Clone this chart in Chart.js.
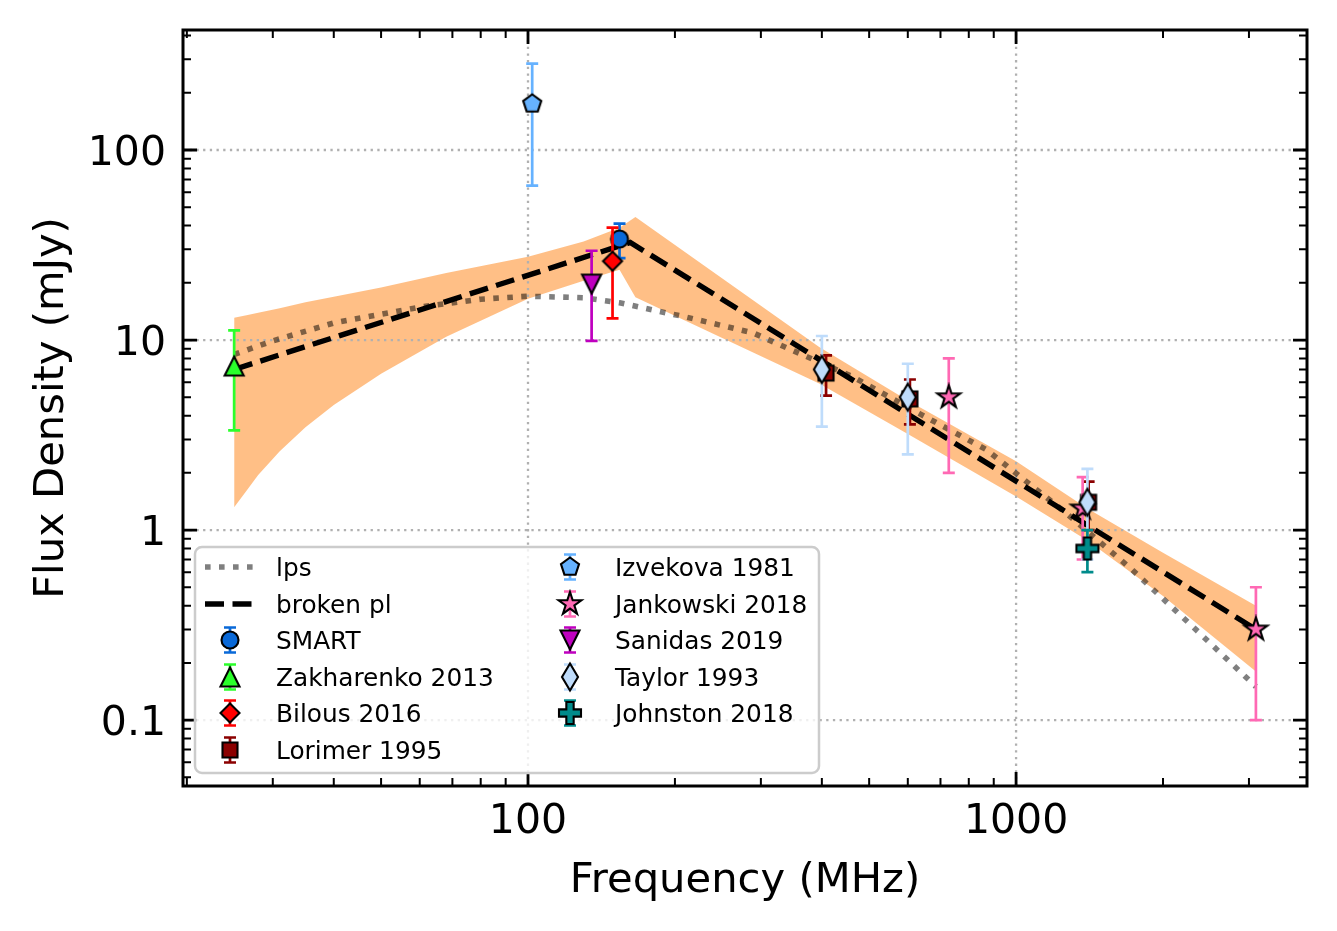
<!DOCTYPE html>
<html>
<head>
<meta charset="utf-8">
<script src="https://cdn.jsdelivr.net/npm/chart.js@4.4.1/dist/chart.umd.min.js"></script>
<style>
  html, body { margin: 0; padding: 0; background: #fff; }
  canvas { display: block; }
</style>
</head>
<body>
<canvas id="spec" width="1337" height="931"></canvas>
<script>
// ---- values (MHz, mJy) ----
const smartFreq = [154],              smartFlux = [34],              smartErr = [7];
const zakFreq   = [25],               zakFlux   = [7.3],             zakErr   = [3.95];
const bilFreq   = [149],              bilFlux   = [26],              bilErr   = [13];
const lorFreq   = [408, 606, 1408],   lorFlux   = [6.7, 4.9, 1.4],   lorErr   = [1.6, 1.3, 0.4];
const izvFreq   = [102],              izvFlux   = [175],             izvErr   = [110];
const jankFreq  = [728, 1369, 3100],  jankFlux  = [5.0, 1.3, 0.3],   jankErr  = [3.0, 0.6, 0.2];
const sanFreq   = [135],              sanFlux   = [19.7],            sanErr   = [9.8];
const taylFreq  = [400, 600, 1400],   taylFlux  = [7.0, 5.0, 1.4],   taylErr  = [3.5, 2.5, 0.7];
const johnFreq  = [1400],             johnFlux  = [0.8],             johnErr  = [0.2];

// fitted models
const lpsFreq = [25, 30, 40, 60, 80, 100, 130, 154, 211, 289, 463, 634, 869, 1265, 1727, 2366, 3100];
const lpsFlux = [8.4, 9.9, 12.3, 14.9, 16.4, 17.0, 16.7, 15.7, 13.2, 10.9, 6.4, 4.1, 2.65, 1.23, 0.62, 0.29, 0.15];
const bplFreq = [25, 162, 3100];
const bplFlux = [7.0, 32.6, 0.3];

// uncertainty band of the broken power law
const bandFreq = [25, 26.5, 28, 31, 35, 40, 50, 68, 100, 130, 154, 166, 395, 600, 1000, 1400, 2000, 3100];
const bandHigh = [13.1, 13.5, 13.9, 14.7, 15.8, 16.9, 18.9, 22.5, 27.4, 33, 39, 44.4, 9.2, 4.8, 2.3, 1.3, 0.76, 0.40];
const bandLow  = [1.32, 1.61, 1.95, 2.6, 3.48, 4.55, 6.65, 10.4, 16.5, 20.5, 23.4, 16.8, 5.9, 3.2, 1.5, 0.88, 0.45, 0.18];

// axes
const xRange = [19.64, 3945];
const yRange = [0.045, 428];
const xMajorTicks = [100, 1000];
const xTickLabels = ['100', '1000'];
const xMinorTicks = [20, 30, 40, 50, 60, 70, 80, 90, 200, 300, 400, 500, 600, 700, 800, 900, 2000, 3000];
const yMajorTicks = [0.1, 1, 10, 100];
const yTickLabels = ['0.1', '1', '10', '100'];
const yMinorTicks = [0.05, 0.06, 0.07, 0.08, 0.09, 0.2, 0.3, 0.4, 0.5, 0.6, 0.7, 0.8, 0.9,
                     2, 3, 4, 5, 6, 7, 8, 9, 20, 30, 40, 50, 60, 70, 80, 90, 200, 300, 400];

const FONT = '"DejaVu Sans", "Liberation Sans", sans-serif';
const pts = (xs, ys) => xs.map((x, i) => ({ x, y: ys[i] }));

// ---- marker images (matplotlib-like shapes with black edge) ----
function mk(shape, w, h, fill) {
  const pad = 3;
  const c = document.createElement('canvas');
  c.width = 2 * Math.ceil(w / 2 + pad);
  c.height = 2 * Math.ceil(h / 2 + pad);
  const g = c.getContext('2d');
  g.translate(c.width / 2, c.height / 2);
  const rx = w / 2, ry = h / 2;
  g.beginPath();
  if (shape === 'circle') {
    g.arc(0, 0, rx, 0, Math.PI * 2);
  } else if (shape === 'up') {
    g.moveTo(0, -ry); g.lineTo(rx, ry); g.lineTo(-rx, ry); g.closePath();
  } else if (shape === 'down') {
    g.moveTo(0, ry); g.lineTo(rx, -ry); g.lineTo(-rx, -ry); g.closePath();
  } else if (shape === 'diamond') {
    g.moveTo(0, -ry); g.lineTo(rx, 0); g.lineTo(0, ry); g.lineTo(-rx, 0); g.closePath();
  } else if (shape === 'square') {
    g.rect(-rx, -ry, w, h);
  } else if (shape === 'pentagon') {
    for (let k = 0; k < 5; k++) {
      const a = -Math.PI / 2 + k * 2 * Math.PI / 5;
      const px = rx * Math.cos(a), py = rx * Math.sin(a);
      k ? g.lineTo(px, py) : g.moveTo(px, py);
    }
    g.closePath();
  } else if (shape === 'star') {
    for (let k = 0; k < 10; k++) {
      const a = -Math.PI / 2 + k * Math.PI / 5;
      const r = k % 2 ? rx * 0.382 : rx;
      const px = r * Math.cos(a), py = r * Math.sin(a);
      k ? g.lineTo(px, py) : g.moveTo(px, py);
    }
    g.closePath();
  } else if (shape === 'plus') {
    const v = [[-1,-3],[1,-3],[1,-1],[3,-1],[3,1],[1,1],[1,3],[-1,3],[-1,1],[-3,1],[-3,-1],[-1,-1]];
    v.forEach((p, k) => {
      const px = p[0] * rx / 3, py = p[1] * ry / 3;
      k ? g.lineTo(px, py) : g.moveTo(px, py);
    });
    g.closePath();
  }
  g.fillStyle = fill;
  g.fill();
  g.lineWidth = 2.1;
  g.lineJoin = 'miter';
  g.strokeStyle = '#000';
  g.stroke();
  return c;
}

const series = [
  { label: 'SMART',           f: smartFreq, s: smartFlux, e: smartErr, color: '#0a69d8', img: mk('circle', 17, 17, '#0a69d8') },
  { label: 'Zakharenko 2013', f: zakFreq,   s: zakFlux,   e: zakErr,   color: '#2bff2b', img: mk('up', 19, 19, '#2bff2b') },
  { label: 'Bilous 2016',     f: bilFreq,   s: bilFlux,   e: bilErr,   color: '#ff0000', img: mk('diamond', 19, 19, '#ff0000') },
  { label: 'Lorimer 1995',    f: lorFreq,   s: lorFlux,   e: lorErr,   color: '#8b0000', img: mk('square', 15, 15, '#8b0000') },
  { label: 'Izvekova 1981',   f: izvFreq,   s: izvFlux,   e: izvErr,   color: '#66b2ff', img: mk('pentagon', 19, 19, '#66b2ff') },
  { label: 'Jankowski 2018',  f: jankFreq,  s: jankFlux,  e: jankErr,  color: '#ff69b4', img: mk('star', 24, 24, '#ff69b4') },
  { label: 'Sanidas 2019',    f: sanFreq,   s: sanFlux,   e: sanErr,   color: '#bf00bf', img: mk('down', 19, 19, '#bf00bf') },
  { label: 'Taylor 1993',     f: taylFreq,  s: taylFlux,  e: taylErr,  color: '#bfdcfb', img: mk('diamond', 16, 27, '#bfdcfb') },
  { label: 'Johnston 2018',   f: johnFreq,  s: johnFlux,  e: johnErr,  color: '#008b8b', img: mk('plus', 22, 22, '#008b8b') },
];

const LPS_STYLE = { color: 'rgba(0,0,0,0.5)', width: 5.6, dash: [5.6, 8.4] };
const BPL_STYLE = { color: '#000', width: 5.4, dash: [19, 8.5] };

const datasets = [
  { label: 'band_hi', data: pts(bandFreq, bandHigh), showLine: true, borderWidth: 0, borderColor: 'rgba(0,0,0,0)',
    pointRadius: 0, fill: '+1', backgroundColor: 'rgba(255,127,14,0.5)', order: 100 },
  { label: 'band_lo', data: pts(bandFreq, bandLow), showLine: true, borderWidth: 0, borderColor: 'rgba(0,0,0,0)',
    pointRadius: 0, fill: false, order: 101 },
  { label: 'lps', data: pts(lpsFreq, lpsFlux), showLine: true, borderColor: LPS_STYLE.color, borderWidth: LPS_STYLE.width,
    borderDash: LPS_STYLE.dash, pointRadius: 0, fill: false, order: 90 },
  { label: 'broken pl', data: pts(bplFreq, bplFlux), showLine: true, borderColor: BPL_STYLE.color, borderWidth: BPL_STYLE.width,
    borderDash: BPL_STYLE.dash, pointRadius: 0, fill: false, order: 80 },
];
series.forEach((s, i) => {
  datasets.push({
    label: s.label, data: pts(s.f, s.s), err: s.e, errColor: s.color,
    showLine: false, pointStyle: s.img, pointRadius: 10, order: 50 - i,
  });
});

// ---- error bars, drawn just before each marker set ----
const CAP = 6, ELW = 2.7;
const errBars = {
  id: 'errBars',
  beforeDatasetDraw(chart, args) {
    const ds = chart.data.datasets[args.index];
    if (!ds.err) return;
    const xs = chart.scales.x, ys = chart.scales.y, ctx = chart.ctx;
    ctx.save();
    ctx.strokeStyle = ds.errColor;
    ctx.lineWidth = ELW;
    ctx.beginPath();
    ds.data.forEach((p, i) => {
      const px = xs.getPixelForValue(p.x);
      const yHi = ys.getPixelForValue(p.y + ds.err[i]);
      const yLo = ys.getPixelForValue(Math.max(p.y - ds.err[i], 1e-4));
      ctx.moveTo(px, yLo); ctx.lineTo(px, yHi);
      ctx.moveTo(px - CAP, yLo); ctx.lineTo(px + CAP, yLo);
      ctx.moveTo(px - CAP, yHi); ctx.lineTo(px + CAP, yHi);
    });
    ctx.stroke();
    ctx.restore();
  }
};

// ---- grid (under the lines, over the band) ----
const gridPlugin = {
  id: 'gridDots',
  beforeDatasetsDraw(chart) {
    const { ctx, chartArea: a } = chart;
    const xs = chart.scales.x, ys = chart.scales.y;
    ctx.save();
    ctx.strokeStyle = '#b0b0b0';
    ctx.lineWidth = 2.3;
    ctx.setLineDash([2.3, 4.4]);
    ctx.beginPath();
    xMajorTicks.forEach(v => { const p = xs.getPixelForValue(v); ctx.moveTo(p, a.bottom); ctx.lineTo(p, a.top); });
    yMajorTicks.forEach(v => { const p = ys.getPixelForValue(v); ctx.moveTo(a.left, p); ctx.lineTo(a.right, p); });
    ctx.stroke();
    ctx.restore();
  }
};

// ---- frame, inward ticks, tick labels, axis titles, legend ----
const framePlugin = {
  id: 'frame',
  afterDraw(chart) {
    const { ctx, chartArea: a } = chart;
    const xs = chart.scales.x, ys = chart.scales.y;
    ctx.save();
    ctx.strokeStyle = '#000';
    const tick = (len, w, list, axis) => {
      ctx.lineWidth = w;
      ctx.beginPath();
      list.forEach(v => {
        if (axis === 'x') {
          const p = xs.getPixelForValue(v);
          ctx.moveTo(p, a.bottom); ctx.lineTo(p, a.bottom - len);
          ctx.moveTo(p, a.top); ctx.lineTo(p, a.top + len);
        } else {
          const p = ys.getPixelForValue(v);
          ctx.moveTo(a.left, p); ctx.lineTo(a.left + len, p);
          ctx.moveTo(a.right, p); ctx.lineTo(a.right - len, p);
        }
      });
      ctx.stroke();
    };
    tick(8, 2, xMinorTicks, 'x');
    tick(8, 2, yMinorTicks, 'y');
    tick(14, 2.8, xMajorTicks, 'x');
    tick(14, 2.8, yMajorTicks, 'y');
    ctx.lineWidth = 3;
    ctx.strokeRect(a.left, a.top, a.right - a.left, a.bottom - a.top);

    ctx.fillStyle = '#000';
    ctx.font = '41px ' + FONT;
    ctx.textAlign = 'center';
    ctx.textBaseline = 'alphabetic';
    xMajorTicks.forEach((v, i) => ctx.fillText(xTickLabels[i], xs.getPixelForValue(v), a.bottom + 47));
    ctx.textAlign = 'right';
    yMajorTicks.forEach((v, i) => ctx.fillText(yTickLabels[i], a.left - 17, ys.getPixelForValue(v) + 15));
    ctx.font = '41.7px ' + FONT;
    ctx.textAlign = 'center';
    ctx.fillText('Frequency (MHz)', (a.left + a.right) / 2, 892);
    ctx.save();
    ctx.translate(63, (a.top + a.bottom) / 2);
    ctx.rotate(-Math.PI / 2);
    ctx.fillText('Flux Density (mJy)', 0, 0);
    ctx.restore();

    // legend
    const bx = 195, by = 547, bw = 624, bh = 226, r = 7;
    ctx.beginPath();
    ctx.moveTo(bx + r, by);
    ctx.arcTo(bx + bw, by, bx + bw, by + bh, r);
    ctx.arcTo(bx + bw, by + bh, bx, by + bh, r);
    ctx.arcTo(bx, by + bh, bx, by, r);
    ctx.arcTo(bx, by, bx + bw, by, r);
    ctx.closePath();
    ctx.fillStyle = 'rgba(255,255,255,0.8)';
    ctx.fill();
    ctx.lineWidth = 2.5;
    ctx.strokeStyle = '#cccccc';
    ctx.stroke();

    const rowY = [567, 604, 640, 677, 713, 750];
    const cols = [{ hx: 230, tx: 276 }, { hx: 570, tx: 615 }];
    const items = [
      { label: 'lps', line: LPS_STYLE },
      { label: 'broken pl', line: BPL_STYLE },
      ...series,
    ];
    ctx.font = '24.8px ' + FONT;
    ctx.textAlign = 'left';
    items.forEach((it, i) => {
      const col = cols[i < 6 ? 0 : 1];
      const y = rowY[i < 6 ? i : i - 6];
      if (it.line) {
        ctx.save();
        ctx.strokeStyle = it.line.color;
        ctx.lineWidth = it.line.width;
        ctx.setLineDash(it.line.dash);
        ctx.beginPath();
        ctx.moveTo(col.hx - 25, y); ctx.lineTo(col.hx + 25, y);
        ctx.stroke();
        ctx.restore();
      } else {
        ctx.save();
        ctx.strokeStyle = it.color;
        ctx.lineWidth = ELW;
        ctx.beginPath();
        ctx.moveTo(col.hx, y - 12.5); ctx.lineTo(col.hx, y + 12.5);
        ctx.moveTo(col.hx - CAP, y - 12.5); ctx.lineTo(col.hx + CAP, y - 12.5);
        ctx.moveTo(col.hx - CAP, y + 12.5); ctx.lineTo(col.hx + CAP, y + 12.5);
        ctx.stroke();
        ctx.restore();
        ctx.drawImage(it.img, col.hx - it.img.width / 2, y - it.img.height / 2);
      }
      ctx.fillStyle = '#000';
      ctx.fillText(it.label, col.tx, y + 9);
    });
    ctx.restore();
  }
};

new Chart(document.getElementById('spec'), {
  type: 'scatter',
  data: { datasets },
  options: {
    responsive: false,
    devicePixelRatio: 1,
    animation: false,
    events: [],
    layout: { padding: { left: 183, right: 30, top: 30, bottom: 145 } },
    plugins: {
      legend: { display: false },
      tooltip: { enabled: false },
      filler: { drawTime: 'beforeDatasetsDraw' },
    },
    scales: {
      x: { type: 'logarithmic', min: xRange[0], max: xRange[1], display: false },
      y: { type: 'logarithmic', min: yRange[0], max: yRange[1], display: false },
    },
  },
  plugins: [gridPlugin, errBars, framePlugin],
});
</script>
</body>
</html>
